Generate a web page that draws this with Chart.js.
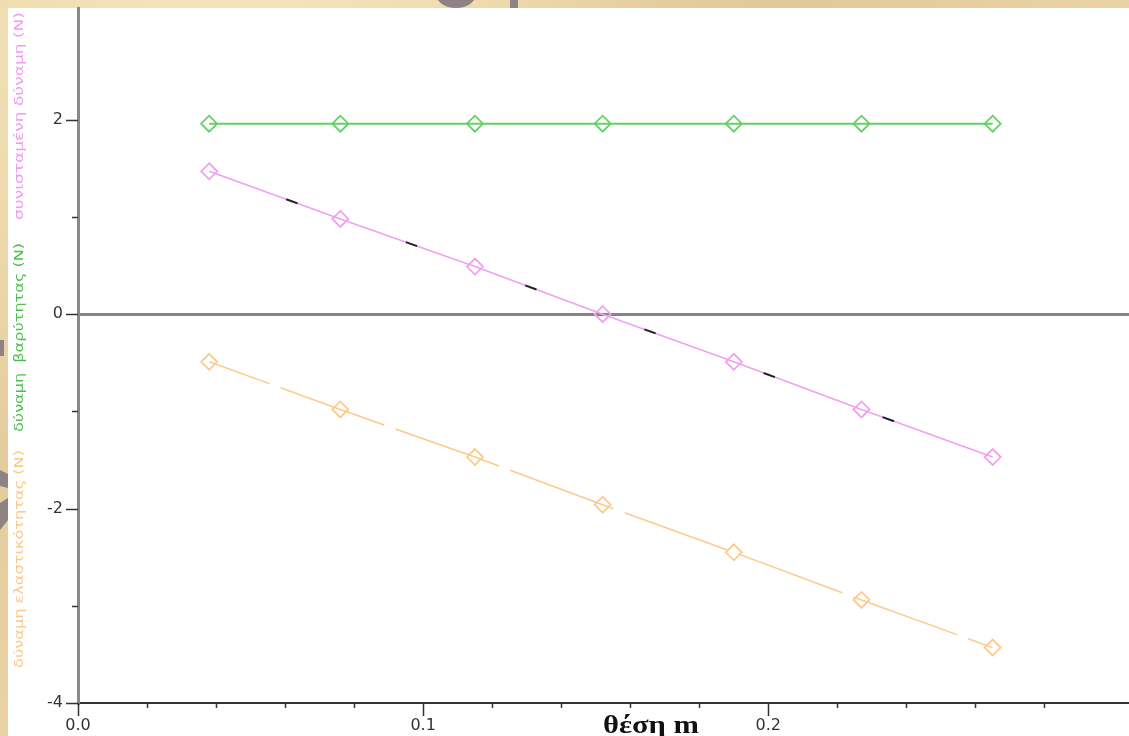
<!DOCTYPE html>
<html>
<head>
<meta charset="utf-8">
<title>δυνάμεις - θέση</title>
<script src="https://cdn.jsdelivr.net/npm/chart.js@4.4.1/dist/chart.umd.min.js"></script>
<style>
  html, body { margin: 0; padding: 0; }
  body {
    width: 1129px; height: 736px; overflow: hidden;
    background-color: #ead5a6;
    background-image:
      radial-gradient(circle at 20% 10%, rgba(255,240,205,0.6), rgba(255,240,205,0) 40%),
      radial-gradient(circle at 70% 0%, rgba(214,190,140,0.5), rgba(214,190,140,0) 35%),
      radial-gradient(circle at 0% 60%, rgba(222,198,150,0.6), rgba(222,198,150,0) 30%);
  }
  #wrap { position: absolute; left: 0; top: 0; width: 1129px; height: 736px; }
</style>
</head>
<body>
<div id="wrap"><canvas id="chart"></canvas></div>
<script>
// position of the mass (m)
const positions = [0.038, 0.076, 0.115, 0.152, 0.190, 0.227, 0.265];
// forces (N)
const gravityForce = [1.96, 1.96, 1.96, 1.96, 1.96, 1.96, 1.96];
const netForce = [1.47, 0.98, 0.49, 0.0, -0.49, -0.98, -1.47];
const elasticForce = [-0.49, -0.98, -1.47, -1.96, -2.45, -2.94, -3.43];

// labelled ticks
const xTickLabels = [0.0, 0.1, 0.2];
const yTickLabels = [-4, -2, 0, 2];

const xTitle = 'θέση m';
const yTitleParts = [
  { text: 'δύναμη ελαστικότητας (N)', color: '#fcc98c', from: 668, to: 450 },
  { text: 'δύναμη  βαρύτητας (N)', color: '#4dbf4d', from: 432, to: 243 },
  { text: 'συνισταμένη δύναμη (N)', color: '#ef9bef', from: 220, to: 12 }
];

const toPoints = ys => positions.map((x, i) => ({ x: x, y: ys[i] }));
const near = (a, b) => Math.abs(a - b) < 1e-6;
const noScalePadding = s => {
  s.paddingTop = 0; s.paddingBottom = 0; s.paddingLeft = 0; s.paddingRight = 0;
};

const decorPlugin = {
  id: 'decor',
  beforeDraw(chart) {
    const { ctx, width, height } = chart;
    ctx.save();
    // bits of the parchment background picture
    ctx.fillStyle = '#8f8284';
    ctx.beginPath();
    ctx.ellipse(456, -6, 20, 14, 0, 0, Math.PI);
    ctx.fill();
    ctx.fillRect(510, 0, 8, 8);
    ctx.beginPath();
    ctx.moveTo(0, 470); ctx.lineTo(8, 474); ctx.lineTo(8, 488); ctx.lineTo(0, 486);
    ctx.fill();
    ctx.beginPath();
    ctx.moveTo(0, 503); ctx.lineTo(8, 498); ctx.lineTo(8, 520); ctx.lineTo(0, 530);
    ctx.fill();
    ctx.fillRect(0, 340, 4, 16);
    // white plot page
    ctx.fillStyle = '#ffffff';
    ctx.fillRect(8, 8, width - 8, height - 8);
    ctx.restore();
  },
  afterDraw(chart) {
    const { ctx } = chart;
    const xs = chart.scales.x, ys = chart.scales.y;
    ctx.save();
    ctx.strokeStyle = '#333';
    ctx.lineWidth = 1.5;
    // y tick marks
    ys.ticks.forEach(t => {
      const py = Math.round(ys.getPixelForValue(t.value)) + 0.5;
      const major = yTickLabels.some(v => near(v, t.value));
      ctx.beginPath();
      ctx.moveTo(ys.right - (major ? 12 : 6), py);
      ctx.lineTo(ys.right, py);
      ctx.stroke();
    });
    // x tick marks
    xs.ticks.forEach(t => {
      const px = Math.round(xs.getPixelForValue(t.value)) + 0.5;
      const major = near(Math.round(t.value * 10) / 10, t.value);
      ctx.beginPath();
      ctx.moveTo(px, xs.top);
      ctx.lineTo(px, xs.top + (major ? 13 : 5));
      ctx.stroke();
    });
    // x title, stretched a little like the original bitmap font
    ctx.fillStyle = '#111';
    ctx.font = 'bold 25px "Liberation Serif"';
    ctx.textAlign = 'center';
    ctx.textBaseline = 'alphabetic';
    const tw = ctx.measureText(xTitle).width;
    ctx.save();
    ctx.translate(651, 733);
    ctx.scale(96 / tw, 1);
    ctx.fillText(xTitle, 0, 0);
    ctx.restore();
    // coloured y title, drawn bottom to top
    ctx.font = '13px "DejaVu Sans"';
    ctx.textAlign = 'left';
    ctx.textBaseline = 'middle';
    yTitleParts.forEach(p => {
      const w = ctx.measureText(p.text).width;
      ctx.save();
      ctx.translate(20, p.from);
      ctx.rotate(-Math.PI / 2);
      ctx.scale((p.from - p.to) / w, 1);
      ctx.fillStyle = p.color;
      ctx.fillText(p.text, 0, 0);
      ctx.restore();
    });
    ctx.restore();
  }
};

const ctx = document.getElementById('chart').getContext('2d');

new Chart(ctx, {
  type: 'line',
  data: {
    datasets: [
      {
        label: 'overlay',
        data: toPoints(netForce),
        borderColor: '#222',
        borderWidth: 2,
        borderDash: [12, 115],
        borderDashOffset: 45,
        pointRadius: 0,
        fill: false
      },
      {
        label: 'δύναμη βαρύτητας (N)',
        data: toPoints(gravityForce),
        borderColor: '#66d066',
        borderWidth: 2,
        pointStyle: 'rectRot',
        pointRadius: 8,
        pointBorderWidth: 1.8,
        pointBackgroundColor: 'rgba(255,255,255,0)',
        fill: false
      },
      {
        label: 'συνισταμένη δύναμη (N)',
        data: toPoints(netForce),
        borderColor: '#f0a0f0',
        borderWidth: 1.5,
        pointStyle: 'rectRot',
        pointRadius: 8,
        pointBorderWidth: 1.8,
        pointBackgroundColor: 'rgba(255,255,255,0)',
        fill: false
      },
      {
        label: 'δύναμη ελαστικότητας (N)',
        data: toPoints(elasticForce),
        borderColor: '#fdca8c',
        borderWidth: 1.5,
        borderDash: [110, 12],
        borderDashOffset: 46,
        pointStyle: 'rectRot',
        pointRadius: 8,
        pointBorderWidth: 1.8,
        pointBackgroundColor: 'rgba(255,255,255,0)',
        fill: false
      }
    ]
  },
  options: {
    responsive: true,
    maintainAspectRatio: false,
    animation: false,
    layout: { autoPadding: false, padding: { top: 8, left: 0, right: 0, bottom: 0 } },
    plugins: {
      legend: { display: false },
      tooltip: { enabled: false }
    },
    scales: {
      x: {
        type: 'linear',
        min: 0,
        max: 0.3045,
        afterFit: s => { s.height = 33; noScalePadding(s); },
        afterBuildTicks: s => {
          s.ticks = s.ticks.filter(t => near(Math.round(t.value * 50) / 50, t.value));
        },
        border: { display: true, color: '#333', width: 2 },
        grid: { drawOnChartArea: false, drawTicks: true, tickLength: 11, tickColor: 'rgba(0,0,0,0)' },
        ticks: {
          stepSize: 0.02,
          autoSkip: false,
          maxRotation: 0,
          padding: 2,
          color: '#333',
          font: { family: 'DejaVu Sans', size: 16 },
          callback: v => {
            const hit = xTickLabels.find(l => near(l, v));
            return hit === undefined ? '' : hit.toFixed(1);
          }
        }
      },
      y: {
        type: 'linear',
        min: -4,
        max: 3.15,
        afterFit: s => { s.width = 78; noScalePadding(s); },
        afterBuildTicks: s => {
          s.ticks = s.ticks.filter(t => near(Math.round(t.value), t.value));
        },
        border: { display: true, color: '#8a8a8a', width: 3 },
        grid: {
          drawOnChartArea: true,
          drawTicks: true,
          tickLength: 11,
          tickColor: 'rgba(0,0,0,0)',
          color: c => (c.tick && near(c.tick.value, 0)) ? '#858585' : 'rgba(0,0,0,0)',
          lineWidth: 3
        },
        ticks: {
          stepSize: 1,
          autoSkip: false,
          padding: 4,
          color: '#333',
          font: { family: 'DejaVu Sans', size: 16 },
          callback: v => {
            const hit = yTickLabels.find(l => near(l, v));
            return hit === undefined ? '' : String(hit);
          }
        }
      }
    }
  },
  plugins: [decorPlugin]
});
</script>
</body>
</html>
